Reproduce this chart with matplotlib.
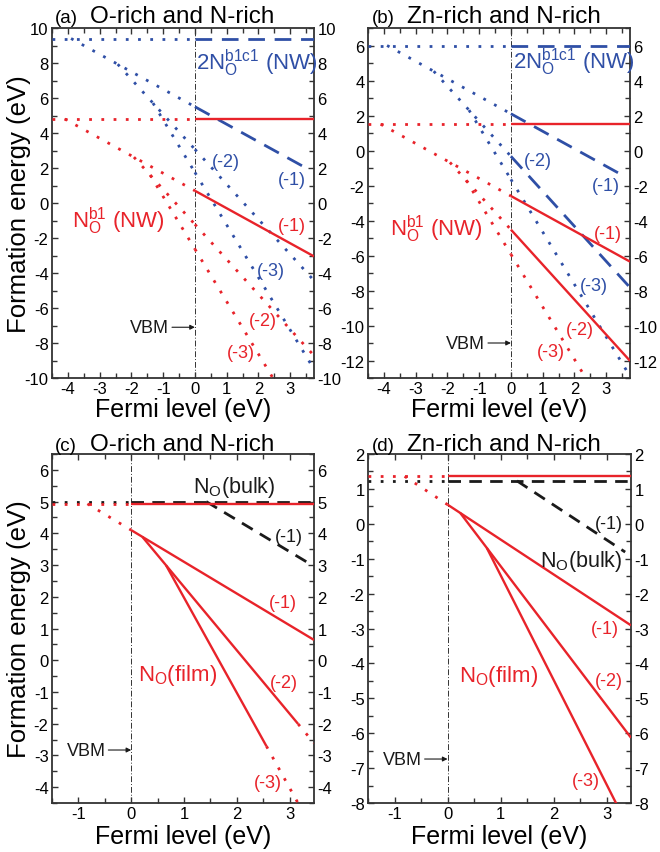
import matplotlib
matplotlib.use('Agg')
import matplotlib.pyplot as plt
from matplotlib.ticker import MultipleLocator
import numpy as np

plt.rcParams['font.family'] = ['Liberation Sans', 'DejaVu Sans']
plt.rcParams['mathtext.fontset'] = 'custom'
plt.rcParams['mathtext.rm'] = 'Liberation Sans'
plt.rcParams['mathtext.it'] = 'Liberation Sans:italic'
plt.rcParams['mathtext.bf'] = 'Liberation Sans:bold'
plt.rcParams['axes.unicode_minus'] = False

# ---------------- data ----------------
charges = [0, -1, -2, -3]

# (a) O-rich and N-rich, nanowire: formation energy at E_F = 0 for each charge
a_blue_E0 = [9.4, 5.5, 3.07, 1.75]      # 2N_O^{b1c1} (NW)
a_red_E0 = [4.8, 0.7, -1.22, -2.63]     # N_O^{b1} (NW)
a_blue_breaks = [[-4.5, 0, 3.75], [-3.9, 0, 3.52], [-2.43, 0, 3.75], [-1.32, 0, 3.75]]
a_red_breaks = [[-4.5, 0, 3.75], [-4.1, 0, 3.75], [-1.92, 0, 3.75], [-1.41, 0, 3.75]]

# (b) Zn-rich and N-rich, nanowire
b_blue_E0 = [6.0, 2.1, -0.33, -1.65]
b_red_E0 = [1.5, -2.6, -4.52, -5.93]
b_blue_breaks = [[-4.5, 0, 3.75], [-3.9, 0, 3.45], [-2.43, 0, 3.75], [-1.32, 0, 3.75]]
b_red_breaks = [[-4.5, 0, 3.75], [-4.1, 0, 3.75], [-1.92, 0, 3.75], [-1.41, 0, 3.75]]

# (c) O-rich and N-rich, film / bulk
c_black_E0 = [5.0, 6.42]                # N_O (bulk), charges 0, -1
c_red_E0 = [4.93, 4.1, 4.31, 4.97]      # N_O (film)
c_black_breaks = [[-1.5, 0, 3.46], [1.42, 3.42]]
c_red_breaks = [[-1.5, 0, 3.46], [-0.83, 0, 3.46], [0.21, 3.16, 3.46], [0.66, 2.56, 3.46]]

# (d) Zn-rich and N-rich, film / bulk
d_black_E0 = [1.23, 2.54]
d_red_E0 = [1.36, 0.55, 0.79, 1.53]
d_black_breaks = [[-1.5, 0, 3.46], [1.31, 3.35]]
d_red_breaks = [[-1.5, 0, 3.46], [-0.81, 0, 3.46], [0.24, 3.46], [0.74, 3.46]]

# ---------------- style ----------------
RED = '#e8232a'
BLUE = '#2f4fa6'
BLACK = '#1a1a1a'
STY = {
    'dot': dict(linestyle=(0, (1.0, 3.4)), lw=2.0),
    'dash': dict(linestyle=(0, (6.0, 3.5)), lw=2.0),
    'bdash': dict(linestyle=(0, (4.5, 3.0)), lw=2.0),
    'solid': dict(linestyle='-', lw=1.7),
}

W, H = 660, 853
fig = plt.figure(figsize=(W / 100, H / 100), dpi=100)


def fx(px):
    return px / W


def fy(py):
    return 1 - py / H


def make_ax(l, t, r, b, xlim, ylim, xmaj, ymaj):
    ax = fig.add_axes([fx(l), fy(b), fx(r) - fx(l), (b - t) / H])
    ax.set_xlim(*xlim)
    ax.set_ylim(*ylim)
    ax.xaxis.set_major_locator(MultipleLocator(xmaj))
    ax.xaxis.set_minor_locator(MultipleLocator(0.5))
    ax.yaxis.set_major_locator(MultipleLocator(ymaj))
    ax.yaxis.set_minor_locator(MultipleLocator(ymaj / 2))
    ax.tick_params(which='both', direction='in', top=True, right=True,
                   labelright=True, labelsize=12, pad=2.5, width=1.0,
                   color='#333333')
    ax.tick_params(which='major', length=4.5)
    ax.tick_params(which='minor', length=3.5)
    for s in ax.spines.values():
        s.set_linewidth(1.3)
        s.set_color('#333333')
    ax.axvline(0, color='#333333', lw=0.7, linestyle=(0, (6, 2, 1, 2)), zorder=1)
    return ax


def draw(ax, E0s, breaks, styles, color):
    for E0, q, br, st in zip(E0s, charges, breaks, styles):
        for i, s in enumerate(st):
            xs = np.array([br[i], br[i + 1]])
            ys = E0 + q * xs
            ax.plot(xs, ys, color=color, solid_capstyle='butt',
                    dash_capstyle='butt', zorder=3, **STY[s])


def lab(ax, x, y, s, color, size=13, ha='center', va='center'):
    ax.text(x, y, s, color=color, fontsize=size, ha=ha, va=va, zorder=5)


def vbm(ax, y):
    ax.annotate('VBM', xy=(0, y), xytext=(-18.5, 0), textcoords='offset points',
                ha='right', va='center', fontsize=13, color=BLACK,
                arrowprops=dict(arrowstyle='-|>', color=BLACK, lw=0.8,
                                shrinkA=0, shrinkB=0, mutation_scale=7))


def titles(lx, tx, by, letter, title):
    fig.text(fx(lx), fy(by), letter, fontsize=13.5, ha='left', va='baseline')
    fig.text(fx(tx), fy(by), title, fontsize=17.5, ha='left', va='baseline')


# ---------------- (a) ----------------
ax = make_ax(52, 29, 314, 379, (-4.5, 3.75), (-10, 10), 1, 2)
draw(ax, a_blue_E0, a_blue_breaks,
     [['dot', 'dash'], ['dot', 'dash'], ['dot', 'dot'], ['dot', 'dot']], BLUE)
draw(ax, a_red_E0, a_red_breaks,
     [['dot', 'solid'], ['dot', 'solid'], ['dot', 'dot'], ['dot', 'dot']], RED)
lab(ax, 0.03, 7.66, r'2N$_\mathrm{O}^\mathrm{b1c1}$ (NW)', BLUE, 16, 'left', 'baseline')
lab(ax, 0.98, 2.4, '(-2)', BLUE)
lab(ax, 3.06, 1.37, '(-1)', BLUE)
lab(ax, 3.06, -1.3, '(-1)', RED)
lab(ax, 2.4, -3.87, '(-3)', BLUE)
lab(ax, 2.15, -6.72, '(-2)', RED)
lab(ax, 1.45, -8.57, '(-3)', RED)
lab(ax, -3.88, -1.37, r'N$_\mathrm{O}^\mathrm{b1}$ (NW)', RED, 16, 'left', 'baseline')
vbm(ax, -7.1)
titles(55, 90, 22.7, '(a)', 'O-rich and N-rich')

# ---------------- (b) ----------------
ax = make_ax(368, 29, 630, 379, (-4.5, 3.75), (-13, 7), 1, 2)
draw(ax, b_blue_E0, b_blue_breaks,
     [['dot', 'dash'], ['dot', 'dash'], ['dot', 'dash'], ['dot', 'dot']], BLUE)
draw(ax, b_red_E0, b_red_breaks,
     [['dot', 'solid'], ['dot', 'solid'], ['dot', 'solid'], ['dot', 'dot']], RED)
lab(ax, 0.06, 4.69, r'2N$_\mathrm{O}^\mathrm{b1c1}$ (NW)', BLUE, 16, 'left', 'baseline')
lab(ax, 0.85, -0.55, '(-2)', BLUE)
lab(ax, 3.0, -1.99, '(-1)', BLUE)
lab(ax, 3.05, -4.74, '(-1)', RED)
lab(ax, 2.62, -7.7, '(-3)', BLUE)
lab(ax, 2.17, -10.2, '(-2)', RED)
lab(ax, 1.26, -11.5, '(-3)', RED)
lab(ax, -3.8, -4.84, r'N$_\mathrm{O}^\mathrm{b1}$ (NW)', RED, 16, 'left', 'baseline')
vbm(ax, -11.0)
titles(372, 407, 22.7, '(b)', 'Zn-rich and N-rich')

# ---------------- (c) ----------------
ax = make_ax(52, 455, 314, 804, (-1.5, 3.46), (-4.5, 6.5), 1, 1)
draw(ax, c_black_E0, c_black_breaks, [['dot', 'bdash'], ['bdash']], BLACK)
draw(ax, c_red_E0, c_red_breaks,
     [['dot', 'solid'], ['dot', 'solid'], ['solid', 'dot'], ['solid', 'dot']], RED)
lab(ax, 1.17, 5.31, r'N$_\mathrm{O}$(bulk)', BLACK, 15.5, 'left', 'baseline')
lab(ax, 2.98, 3.9, '(-1)', BLACK)
lab(ax, 2.88, 1.83, '(-1)', RED)
lab(ax, 2.89, -0.71, '(-2)', RED)
lab(ax, 2.58, -3.84, '(-3)', RED)
lab(ax, 0.12, -0.63, r'N$_\mathrm{O}$(film)', RED, 16, 'left', 'baseline')
vbm(ax, -2.83)
titles(55, 90, 450.7, '(c)', 'O-rich and N-rich')

# ---------------- (d) ----------------
ax = make_ax(368, 455, 631, 804, (-1.5, 3.46), (-8, 2), 1, 1)
draw(ax, d_black_E0, d_black_breaks, [['dot', 'bdash'], ['bdash']], BLACK)
draw(ax, d_red_E0, d_red_breaks,
     [['dot', 'solid'], ['dot', 'solid'], ['solid'], ['solid']], RED)
lab(ax, 3.05, 0.02, '(-1)', BLACK)
lab(ax, 1.75, -1.2, r'N$_\mathrm{O}$(bulk)', BLACK, 15.5, 'left', 'baseline')
lab(ax, 2.96, -3.0, '(-1)', RED)
lab(ax, 3.05, -4.49, '(-2)', RED)
lab(ax, 2.6, -7.36, '(-3)', RED)
lab(ax, 0.21, -4.49, r'N$_\mathrm{O}$(film)', RED, 16, 'left', 'baseline')
vbm(ax, -6.74)
titles(372, 407, 450.7, '(d)', 'Zn-rich and N-rich')

# ---------------- axis labels ----------------
for cx in (183, 499):
    fig.text(fx(cx), fy(416.7), 'Fermi level (eV)', fontsize=18, ha='center', va='baseline')
    fig.text(fx(cx), fy(844), 'Fermi level (eV)', fontsize=18, ha='center', va='baseline')
fig.text(fx(19), fy(204), 'Formation energy (eV)', fontsize=18.5, rotation=90,
         ha='center', va='center')
fig.text(fx(19), fy(629.5), 'Formation energy (eV)', fontsize=18.5, rotation=90,
         ha='center', va='center')

fig.savefig('out.png', dpi=100)
